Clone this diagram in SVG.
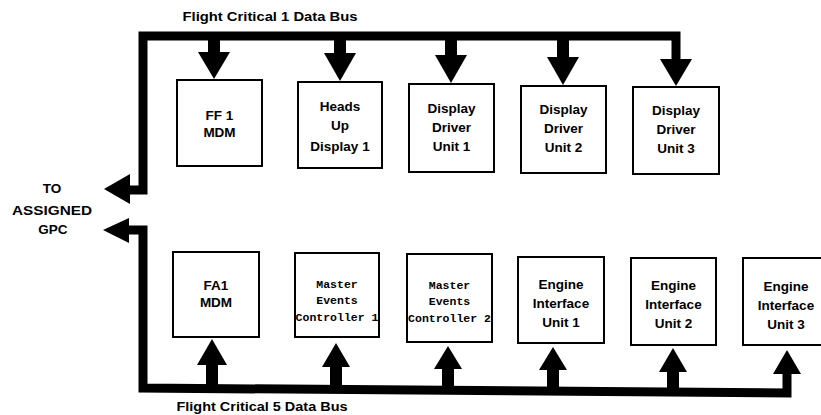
<svg xmlns="http://www.w3.org/2000/svg" width="821" height="415" viewBox="0 0 821 415">
<style>
.box{fill:#fff;stroke:#000;stroke-width:2}
.t{font-family:"Liberation Sans",Arial,sans-serif;font-weight:bold;font-size:13.5px;fill:#000;text-anchor:middle}
.m{font-family:"Liberation Mono","Courier New",monospace;font-weight:bold;font-size:11.5px;fill:#000;text-anchor:middle}
.lbl{font-family:"Liberation Sans",Arial,sans-serif;font-weight:bold;font-size:12.5px;fill:#000;text-anchor:middle}
.bus{fill:none;stroke:#000;stroke-width:9;stroke-linejoin:miter}
.ah{fill:#000}
</style>
<rect width="821" height="415" fill="#fff"/>
<g id="connectors">
  <path class="bus" d="M128,190 L143,190 L143,36 L676,36 L676,60"/>
  <polygon class="ah" points="104,189 130,174 130,204"/>
  <path class="bus" d="M127,230 L143,230 L143,388 L787,393 L787,372"/>
  <polygon class="ah" points="103,230 129,218 129,243"/>
  <g class="ah">
    <rect x="208" y="36" width="12" height="18"/><polygon points="198,52 230,52 214,79"/>
    <rect x="334" y="36" width="12" height="18"/><polygon points="324,53 356,53 340,81"/>
    <rect x="445" y="36" width="12" height="20"/><polygon points="435,55 467,55 451,83"/>
    <rect x="557" y="36" width="12" height="22"/><polygon points="547,57 579,57 563,85"/>
    <polygon points="660,59 692,59 676,86"/>
  </g>
  <g class="ah">
    <rect x="206" y="363" width="12" height="26"/><polygon points="197,365 227,365 212,339"/>
    <rect x="330" y="365" width="12" height="25"/><polygon points="322,367 350,367 336,343"/>
    <rect x="442" y="367" width="12" height="24"/><polygon points="434,369 462,369 448,346"/>
    <rect x="547" y="368" width="12" height="24"/><polygon points="539,370 567,370 553,347"/>
    <rect x="667" y="370" width="12" height="23"/><polygon points="659,372 687,372 673,348"/>
    <polygon points="773,374 801,374 787,350"/>
  </g>
</g>
<text class="lbl" x="270" y="21" textLength="175" lengthAdjust="spacingAndGlyphs">Flight Critical 1 Data Bus</text>
<text class="lbl" x="262" y="411" textLength="171" lengthAdjust="spacingAndGlyphs">Flight Critical 5 Data Bus</text>
<g id="gpc-label">
  <text class="t" x="52" y="193" font-size="13">TO</text>
  <text class="t" x="52" y="215" textLength="80" lengthAdjust="spacingAndGlyphs">ASSIGNED</text>
  <text class="t" x="53" y="234">GPC</text>
</g>
<g id="ff1-mdm"><rect class="box" x="177" y="80" width="85" height="86"/>
  <text class="t" x="219.5" y="120">FF 1</text><text class="t" x="219.5" y="137">MDM</text></g>
<g id="hud1"><rect class="box" x="298" y="82" width="84" height="86"/>
  <text class="t" x="340" y="111">Heads</text><text class="t" x="340" y="130">Up</text><text class="t" x="340" y="151">Display 1</text></g>
<g id="ddu1"><rect class="box" x="409" y="84" width="85" height="88"/>
  <text class="t" x="451.5" y="113">Display</text><text class="t" x="451.5" y="132">Driver</text><text class="t" x="451.5" y="151">Unit 1</text></g>
<g id="ddu2"><rect class="box" x="521" y="86" width="85" height="87"/>
  <text class="t" x="563.5" y="114">Display</text><text class="t" x="563.5" y="133">Driver</text><text class="t" x="563.5" y="152">Unit 2</text></g>
<g id="ddu3"><rect class="box" x="633" y="87" width="86" height="87"/>
  <text class="t" x="676" y="115">Display</text><text class="t" x="676" y="134">Driver</text><text class="t" x="676" y="153">Unit 3</text></g>
<g id="fa1-mdm"><rect class="box" x="173" y="252" width="86" height="85"/>
  <text class="t" x="216" y="290">FA1</text><text class="t" x="216" y="307">MDM</text></g>
<g id="mec1"><rect class="box" x="295" y="253" width="84" height="84"/>
  <text class="m" x="337" y="288">Master</text><text class="m" x="337" y="304">Events</text><text class="m" x="337" y="321">Controller 1</text></g>
<g id="mec2"><rect class="box" x="407" y="254" width="85" height="88"/>
  <text class="m" x="449.5" y="289">Master</text><text class="m" x="449.5" y="305">Events</text><text class="m" x="449.5" y="322">Controller 2</text></g>
<g id="eiu1"><rect class="box" x="518" y="257" width="86" height="86"/>
  <text class="t" x="561" y="289">Engine</text><text class="t" x="561" y="308">Interface</text><text class="t" x="561" y="327">Unit 1</text></g>
<g id="eiu2"><rect class="box" x="631" y="258" width="85" height="87"/>
  <text class="t" x="673.5" y="290">Engine</text><text class="t" x="673.5" y="309">Interface</text><text class="t" x="673.5" y="328">Unit 2</text></g>
<g id="eiu3"><rect class="box" x="743" y="258" width="86" height="87"/>
  <text class="t" x="786" y="291">Engine</text><text class="t" x="786" y="310">Interface</text><text class="t" x="786" y="329">Unit 3</text></g>
</svg>
